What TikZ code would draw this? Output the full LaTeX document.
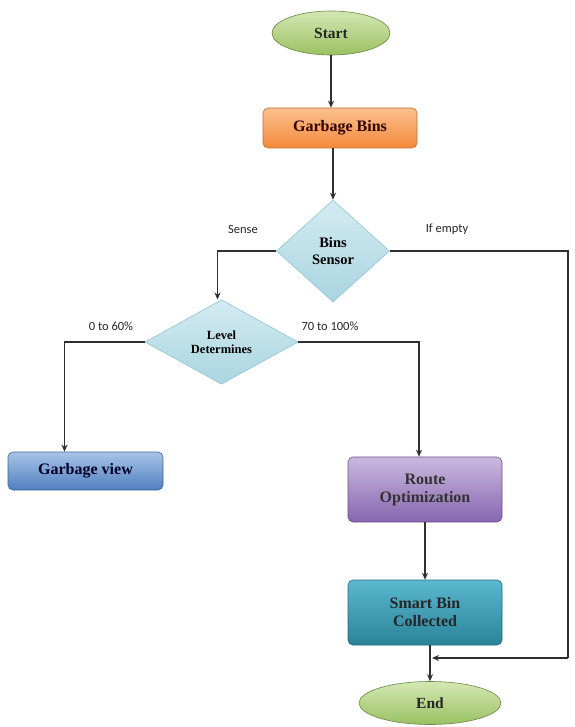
\documentclass[tikz,border=0pt]{standalone}
\usepackage{fontspec}
\setmainfont{Liberation Serif}
\newfontfamily\labelfont{Carlito}
\usetikzlibrary{shapes.geometric,arrows.meta}
\definecolor{lineC}{HTML}{303030}
\tikzset{
  x=1pt,y=-1pt,
  conn/.style={draw=lineC,line width=1.1pt},
  arr/.style={conn,-{Stealth[length=7pt,width=6pt]}},
  term/.style={ellipse,draw=#1!70!black,line width=0.6pt,inner sep=0pt,font=\bfseries\fontsize{15.5}{17}\selectfont,text=black!85},
  proc/.style={rectangle,rounded corners=5pt,inner sep=0pt,line width=0.6pt,font=\bfseries\fontsize{16}{18}\selectfont,align=center},
  dec/.style={diamond,draw=diaB,top color=diaT,bottom color=diaM,line width=0.6pt,inner sep=0pt,align=center,font=\bfseries},
  lab/.style={font=\labelfont\fontsize{12.5}{14}\selectfont,text=black!85,inner sep=0pt}
}
\definecolor{grT}{HTML}{D3E8B4}
\definecolor{grB}{HTML}{9BC162}
\definecolor{orT}{HTML}{FBC08F}
\definecolor{orB}{HTML}{F5893A}
\definecolor{diaT}{HTML}{D4EBF1}
\definecolor{diaM}{HTML}{A9D5E1}
\definecolor{diaB}{HTML}{8FC5D4}
\definecolor{blT}{HTML}{A9C4E6}
\definecolor{blB}{HTML}{4F7FC0}
\definecolor{puT}{HTML}{C9B9DE}
\definecolor{puB}{HTML}{8766AE}
\definecolor{teT}{HTML}{5BB8CF}
\definecolor{teB}{HTML}{2A8399}
\begin{document}
\begin{tikzpicture}
\useasboundingbox (0,0) rectangle (574,727);
\fill[white] (0,0) rectangle (574,727);

\node[term=grB,top color=grT,bottom color=grB,minimum width=118pt,minimum height=44pt] (start) at (331,33) {Start};
\node[proc,draw=orB!80!black,top color=orT,bottom color=orB,minimum width=154pt,minimum height=40pt,text=black!70!red!60!black] (bins) at (340,128) {Garbage Bins};
\node[dec,minimum width=113pt,minimum height=102pt,font=\bfseries\fontsize{14.5}{17}\selectfont] (sensor) at (333,251) {Bins\\Sensor};
\node[dec,minimum width=153pt,minimum height=80pt,font=\bfseries\fontsize{12.5}{14.5}\selectfont] (level) at (221.5,342) {Level\\Determines};
\node[proc,draw=blB!80!black,top color=blT,bottom color=blB,minimum width=155pt,minimum height=38pt,text=black!60!blue!40!black] (gview) at (85.5,471) {Garbage view};
\node[proc,draw=puB!80!black,top color=puT,bottom color=puB,minimum width=154pt,minimum height=65pt,text=black!80] (route) at (425,489.5) {Route\\Optimization};
\node[proc,draw=teB!80!black,top color=teT,bottom color=teB,minimum width=154pt,minimum height=65pt,text=black!85] (smart) at (425,612.5) {Smart Bin\\Collected};
\node[term=grB,top color=grT,bottom color=grB,minimum width=142pt,minimum height=43pt] (end) at (430,703) {End};

\node[lab] (lsense) at (243,229) {Sense};
\node[lab] (lempty) at (447,229) {If empty};
\node[lab] (llow) at (111,326) {0 to 60\%};
\node[lab] (lhigh) at (330,326) {70 to 100\%};

\coordinate (rtop) at (568,251);
\coordinate (rbot) at (568,658);
\coordinate (join) at (429,658);

\draw[arr] (start.south) -- (start.south |- bins.north);
\draw[arr] (bins.south -| sensor.north) -- (sensor.north);
\draw[arr] (sensor.west) -| ([xshift=-4pt]level.north);
\draw[conn] (sensor.east) -- (rtop) -- (rbot);
\draw[arr] (rbot) -- ([xshift=3pt]join);
\draw[arr] (level.west) -| ([xshift=-21pt]gview.north);
\draw[arr] (level.east) -| ([xshift=-6pt]route.north);
\draw[arr] (route.south) -- (smart.north);
\draw[arr] (end.north |- smart.south) -- (end.north);
\end{tikzpicture}
\end{document}
